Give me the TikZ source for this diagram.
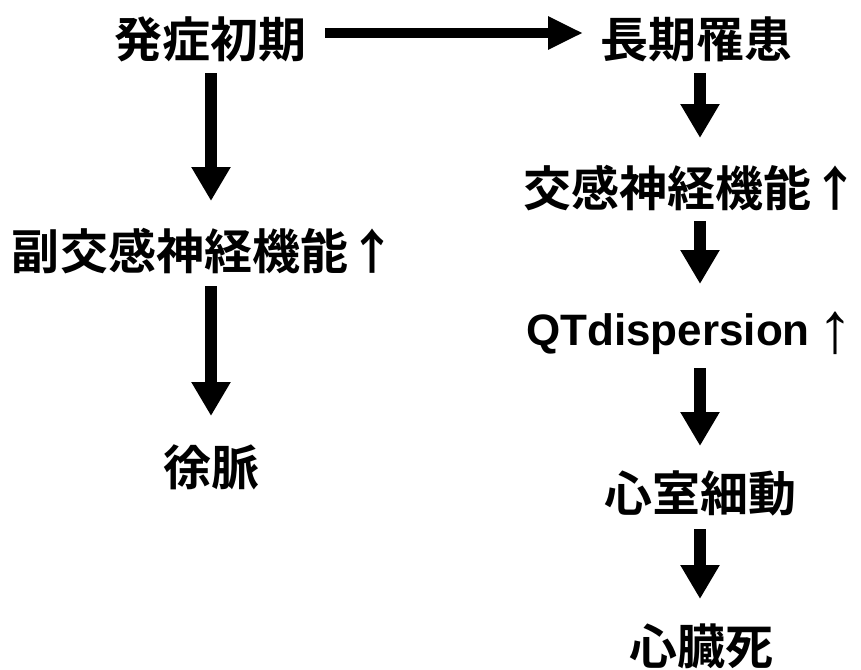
\documentclass[tikz,border=0pt]{standalone}
\usepackage{fontspec}
\usetikzlibrary{arrows.meta}
\newfontfamily\jpfont{Noto Sans CJK JP}[BoldFont={Noto Sans CJK JP Bold}]
\newfontfamily\latfont{Liberation Sans}
\tikzset{
  lbl/.style={inner sep=0pt, font=\jpfont\bfseries\fontsize{48pt}{48pt}\selectfont},
  vdown/.style={line width=12pt, -{Triangle[width=37pt,length=34pt]}},
  hright/.style={line width=10pt, -{Triangle[width=31pt,length=35pt]}}
}
\begin{document}
\begin{tikzpicture}[x=1pt,y=-1pt]
\useasboundingbox (0,0) rectangle (861,669);
\node[lbl] (onset) at (210,39) {発症初期};
\node[lbl] (chronic) at (696,39) {長期罹患};
\node[lbl] (para) at (204,251) {副交感神経機能↑};
\node[lbl] (brady) at (211,467) {徐脈};
\node[lbl] (symp) at (691,188) {交感神経機能↑};
\node[lbl, font=\latfont\bfseries\fontsize{44pt}{44pt}\selectfont] (qt) at (690,333) {QTdispersion\kern8pt\raisebox{-7pt}{\fontsize{72pt}{72pt}\selectfont ↑}};
\node[lbl] (vf) at (700,493) {心室細動};
\node[lbl] (death) at (701,646) {心臓死};
% horizontal
\draw[hright, shorten <=115pt, shorten >=113pt] ([yshift=6pt]onset.center) -- ([yshift=6pt]chronic.center);
% left column
\draw[vdown, shorten <=34pt, shorten >=50pt] (brady.center |- onset.center) -- (brady.center |- para.center);
\draw[vdown, shorten <=35pt, shorten >=51pt] (brady.center |- para.center) -- (brady.center);
% right column
\draw[vdown, shorten <=34pt, shorten >=50pt] (vf.center |- chronic.center) -- (vf.center |- symp.center);
\draw[vdown, shorten <=33pt, shorten >=49pt] (vf.center |- symp.center) -- (vf.center |- qt.center);
\draw[vdown, shorten <=35pt, shorten >=47pt] (vf.center |- qt.center) -- (vf.center);
\draw[vdown, shorten <=36pt, shorten >=47pt] (vf.center) -- (vf.center |- death.center);
\end{tikzpicture}
\end{document}
